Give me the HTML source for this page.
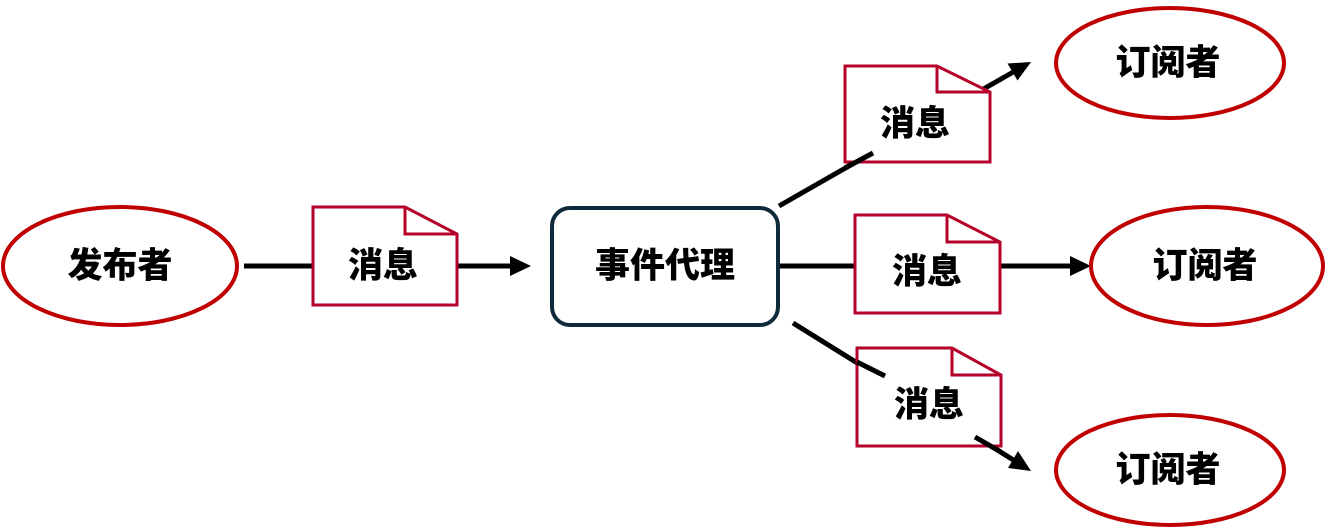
<!DOCTYPE html>
<html><head><meta charset="utf-8"><style>
html,body{margin:0;padding:0;background:#fff;}
svg{display:block}
text{font-family:"Liberation Sans","Noto Sans CJK SC",sans-serif;font-weight:900;font-size:35px;fill:#000;text-anchor:middle;dominant-baseline:central}
</style></head><body>
<svg width="1330" height="532" viewBox="0 0 1330 532">
<g stroke="#000" stroke-width="5" fill="none">
<line x1="244" y1="266" x2="313" y2="266"/>
<line x1="457" y1="266" x2="514" y2="266"/>
<line x1="780" y1="266" x2="855" y2="266"/>
<line x1="1000" y1="266" x2="1074" y2="266"/>
<line x1="779" y1="206" x2="1015" y2="71"/>
<line x1="793" y1="323" x2="1015" y2="461"/>
</g>
<g fill="#000">
<polygon points="510,256 531,266 510,276"/>
<polygon points="1070,256 1091,266 1070,276"/>
<polygon points="1017.5,80.5 1031,62 1007.5,63.5"/>
<polygon points="1008,468 1031,471 1018,451"/>
</g>
<g fill="#fff" stroke="#c00000" stroke-width="4">
<ellipse cx="120" cy="266" rx="117" ry="59"/>
<ellipse cx="1170" cy="63" rx="114" ry="55"/>
<ellipse cx="1207" cy="266" rx="116" ry="59"/>
<ellipse cx="1170" cy="470" rx="114" ry="55"/>
</g>
<rect x="552" y="208" width="226" height="117" rx="18" fill="#fff" stroke="#0f2a3a" stroke-width="4"/>
<g fill="#fff" stroke="#b5002a" stroke-width="3">
<path d="M313,207 H405 L457,234 V305 H313 Z"/><path d="M405,207 V234 H457" fill="none"/>
<path d="M845,66 H937 L990,92 V162 H845 Z"/><path d="M937,66 V92 H990" fill="none"/>
<path d="M855,215 H947 L1000,242 V313 H855 Z"/><path d="M947,215 V242 H1000" fill="none"/>
<path d="M857,348 H952 L1001,375 V446 H857 Z"/><path d="M952,348 V375 H1001" fill="none"/>
</g>
<g stroke="#000" stroke-width="5">
<line x1="845" y1="168" x2="873" y2="153"/>
<line x1="857" y1="362" x2="885" y2="376"/>
<line x1="975" y1="437" x2="1001" y2="452"/>
</g>
<text x="120" y="266">发布者</text>
<text x="383" y="266">消息</text>
<text x="665" y="266">事件代理</text>
<text x="915" y="124">消息</text>
<text x="927" y="272">消息</text>
<text x="929" y="405">消息</text>
<text x="1168" y="63">订阅者</text>
<text x="1205" y="266">订阅者</text>
<text x="1168" y="470">订阅者</text>
</svg>
</body></html>
